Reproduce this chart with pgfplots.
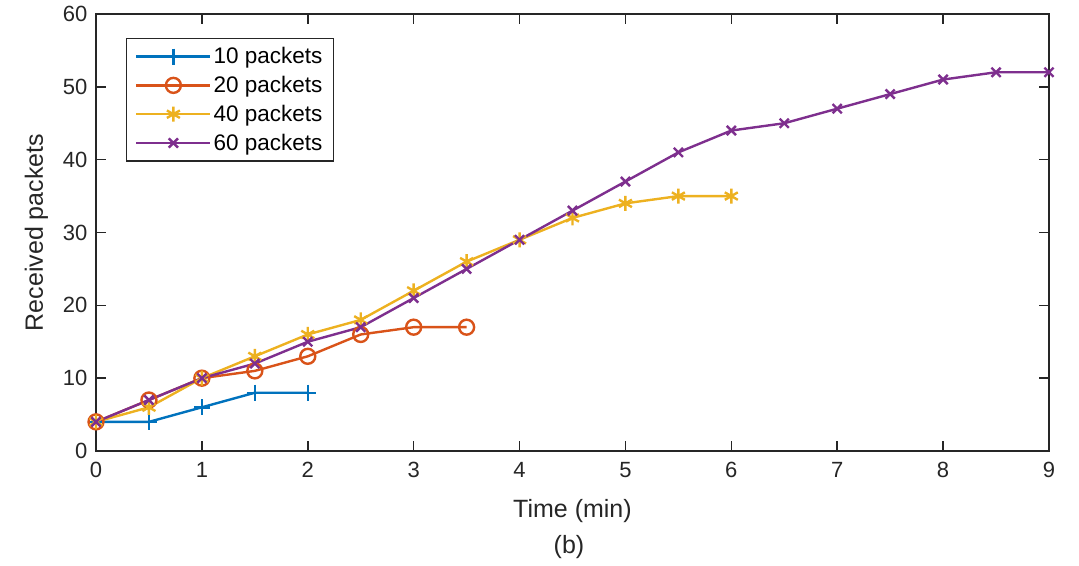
\documentclass[border=0pt]{standalone}
\usepackage{pgfplots}
\pgfplotsset{compat=1.18}
\usepackage{fontspec}
\setmainfont{Liberation Sans}
\definecolor{mb}{rgb}{0,0.447,0.741}
\definecolor{mo}{rgb}{0.85,0.325,0.098}
\definecolor{my}{rgb}{0.929,0.694,0.125}
\definecolor{mp}{rgb}{0.494,0.184,0.556}
\definecolor{ax}{rgb}{0.15,0.15,0.15}
\begin{document}
\begin{tikzpicture}[x=1pt,y=1pt]
\begin{axis}[
  name=ax1,
  at={(0,0)}, anchor=south west,
  width=953pt, height=437pt, scale only axis,
  xmin=0, xmax=9, ymin=0, ymax=60,
  xtick={0,1,...,9}, ytick={0,10,...,60},
  tick align=inside,
  major tick length=10pt,
  axis line style={ax, line width=1.6pt},
  every tick/.style={ax, line width=1.6pt},
  tick label style={font=\fontsize{22}{24}\selectfont, text=ax},
  xticklabel style={yshift=-8pt},
  yticklabel style={xshift=-5pt},
  /pgf/number format/assume math mode=true,
  xlabel={Time (min)}, ylabel={Received packets},
  label style={font=\fontsize{25}{28}\selectfont, text=ax},
  xlabel style={yshift=-14pt},
  ylabel style={yshift=8pt},
  legend style={at={(rel axis cs:0.031,0.945)}, anchor=north west,
    draw=ax, line width=1.3pt, font=\fontsize{22.5}{25}\selectfont,
    inner xsep=9pt, inner ysep=7pt, row sep=7pt,
    legend cell align=left},
  legend image post style={line width=2.4pt},
  legend image code/.code={\draw[#1] (0pt,0pt) -- (74pt,0pt); \draw[#1, only marks] plot coordinates {(37pt,0pt)};},
  clip=false,
]
\addplot[mb, line width=2.4pt, mark=+, mark size=8pt, mark options={line width=2.4pt}] coordinates {
(0,4) (0.5,4) (1,6) (1.5,8) (2,8)};
\addlegendentry{10 packets}
\addplot[mo, line width=2.4pt, mark=o, mark size=7.5pt, mark options={line width=2.4pt, fill=none}] coordinates {
(0,4) (0.5,7) (1,10) (1.5,11) (2,13) (2.5,16) (3,17) (3.5,17)};
\addlegendentry{20 packets}
\addplot[my, line width=2.4pt, mark=asterisk, mark size=7.5pt, mark options={line width=2.4pt}] coordinates {
(0,4) (0.5,6) (1,10) (1.5,13) (2,16) (2.5,18) (3,22) (3.5,26) (4,29) (4.5,32) (5,34) (5.5,35) (6,35)};
\addlegendentry{40 packets}
\addplot[mp, line width=2.4pt, mark=x, mark size=6.5pt, mark options={line width=2.4pt}] coordinates {
(0,4) (0.5,7) (1,10) (1.5,12) (2,15) (2.5,17) (3,21) (3.5,25) (4,29) (4.5,33) (5,37) (5.5,41) (6,44) (6.5,45) (7,47) (7.5,49) (8,51) (8.5,52) (9,52)};
\addlegendentry{60 packets}
\end{axis}
\node[font=\fontsize{25}{28}\selectfont, text=ax, anchor=center] at (ax1.south west) [xshift=473pt, yshift=-96pt] {(b)};
\useasboundingbox (ax1.south west) ++(-96pt,-114pt) rectangle ++(1079pt,565pt);
\end{tikzpicture}
\end{document}
